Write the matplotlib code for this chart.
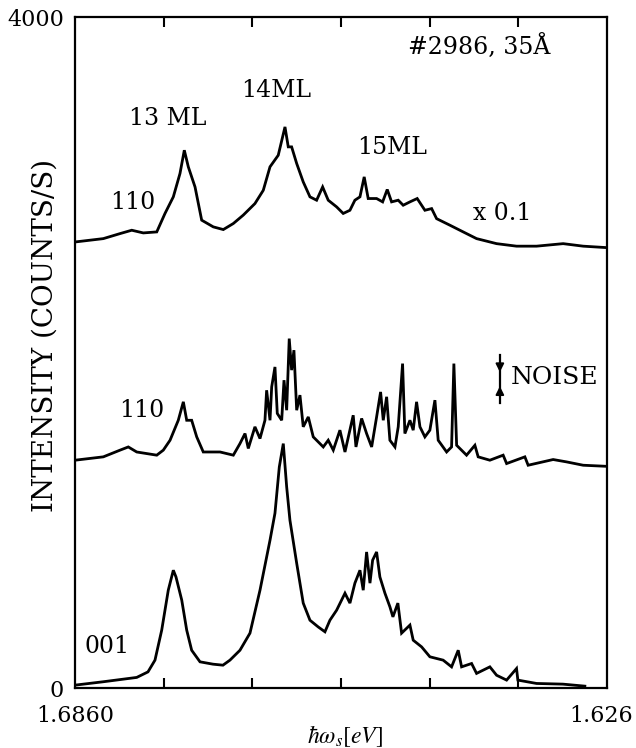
"""
    Raman spectra of the #2986 sample, three traces stacked
"""
import numpy as np
import matplotlib
matplotlib.use("Agg")
import matplotlib.pyplot as plt
import matplotlib.transforms as mtransforms

plt.rcParams["font.family"] = ["DejaVu Serif"]
plt.rcParams["mathtext.fontset"] = "stix"

E0 = 1.6860
E_END = 1.626

### spectra: offset below E0 in meV, intensity in counts/s
off_001 = [0, 3.16, 6.96, 8.23, 9.02, 9.78, 10.52, 11.09, 11.39, 12.04, 12.60, 13.16, 14.10,
           15.57, 16.69, 17.48, 18.61, 19.74, 20.87, 22.00, 22.56, 23.05, 23.50, 23.88, 24.25,
           25.01, 25.75, 26.51, 27.44, 28.20, 28.76, 29.52, 30.46, 31.02, 31.58, 32.15, 32.52,
           32.90, 33.28, 33.58, 34.03, 34.40, 34.97, 35.53, 35.87, 36.43, 36.85, 37.79, 38.16,
           39.11, 40.04, 41.54, 42.49, 43.24, 43.62, 44.75, 45.31, 46.81, 47.57, 48.70, 49.82,
           49.97, 52.08, 55.05, 57.53]
cnt_001 = [18, 38, 64, 97, 167, 346, 584, 703, 663, 525, 346, 226, 157,
           143, 137, 167, 226, 328, 584, 882, 1043, 1319, 1458, 1200, 1001,
           745, 507, 405, 365, 336, 405, 465, 566, 507, 626, 703, 584,
           812, 626, 763, 812, 663, 566, 485, 425, 507, 328, 376, 286,
           246, 187, 167, 127, 226, 127, 147, 88, 127, 77, 48, 117,
           48, 28, 24, 12]

off_110 = [0, 3.19, 5.08, 6.01, 6.96, 9.22, 9.96, 10.72, 11.65, 12.22, 12.60, 13.16, 13.73,
           14.47, 16.36, 17.86, 18.61, 19.18, 19.55, 20.30, 20.87, 21.43, 21.62, 22.00, 22.19,
           22.56, 22.82, 23.32, 23.58, 23.88, 24.17, 24.44, 24.70, 25.01, 25.38, 25.75, 26.32,
           26.88, 28.01, 28.57, 29.14, 29.89, 30.46, 31.39, 31.70, 32.34, 32.90, 33.47, 34.03,
           34.48, 34.78, 35.16, 35.53, 36.10, 36.47, 36.96, 37.22, 37.79, 38.16, 38.54, 38.92,
           39.48, 40.04, 40.61, 40.98, 41.93, 42.49, 42.75, 43.06, 44.18, 45.12, 45.49, 46.81,
           48.31, 48.70, 50.76, 51.13, 53.95, 55.46, 57.34, 59.79]
cnt_110 = [1359, 1379, 1419, 1438, 1408, 1389, 1419, 1478, 1597, 1707, 1597, 1597, 1498,
           1408, 1408, 1389, 1458, 1518, 1429, 1558, 1488, 1597, 1776, 1597, 1796,
           1915, 1638, 1597, 1836, 1657, 2084, 1896, 2015, 1657, 1747, 1558, 1617,
           1498, 1438, 1478, 1419, 1538, 1408, 1627, 1438, 1608, 1518, 1438, 1617,
           1766, 1597, 1737, 1478, 1438, 1558, 1935, 1518, 1597, 1538, 1707, 1558,
           1498, 1538, 1717, 1478, 1408, 1438, 1935, 1448, 1389, 1448, 1379, 1359,
           1389, 1339, 1379, 1329, 1363, 1349, 1329, 1323]

# top trace, already multiplied by 0.1 and shifted up
off_110x = [0, 3.19, 5.08, 6.40, 7.70, 9.22, 10.15, 11.09, 11.84, 12.33, 12.78, 13.54, 14.29,
            15.60, 16.73, 17.86, 18.98, 20.30, 21.24, 22.00, 22.93, 23.69, 24.06, 24.44, 25.01,
            25.75, 26.51, 27.26, 27.94, 28.57, 29.52, 30.26, 31.02, 31.58, 32.15, 32.63, 33.08,
            34.03, 34.71, 35.23, 35.72, 36.47, 37.03, 37.79, 38.61, 39.48, 40.24, 40.80, 42.30,
            43.80, 45.31, 47.57, 49.82, 52.08, 55.08, 57.34, 59.79]
cnt_110x = [2660, 2680, 2710, 2730, 2714, 2720, 2830, 2929, 3068, 3207, 3108, 2988, 2790,
            2750, 2734, 2770, 2820, 2889, 2968, 3108, 3177, 3346, 3227, 3227, 3128,
            3018, 2929, 2909, 2988, 2909, 2869, 2830, 2849, 2909, 2929, 3048, 2919,
            2919, 2899, 2973, 2899, 2909, 2879, 2899, 2919, 2849, 2859, 2799, 2760,
            2720, 2680, 2650, 2635, 2635, 2650, 2635, 2627]

minor_ticks = [1.676, 1.666, 1.656, 1.646, 1.636]

# noise bar
noise_e = 1.63806
noise_top, noise_mid_hi, noise_mid_lo, noise_bot = 1985, 1884, 1800, 1699


def to_energy(off):
    return E0 - np.array(off) / 1000.0


fig = plt.figure(figsize=(6.36, 7.48), dpi=100)
ax = fig.add_axes([0.118, 0.080, 0.836, 0.897])

for off, cnt in [(off_001, cnt_001), (off_110, cnt_110), (off_110x, cnt_110x)]:
    ax.plot(to_energy(off), cnt, color="black", lw=2.0, solid_joinstyle="miter")

ax.set_xlim(E0, E_END)
ax.set_ylim(0, 4000)

ax.set_xticks([E0, E_END])
ax.set_xticklabels(["1.6860", "1.626"])
ax.set_xticks(minor_ticks, minor=True)
ax.set_yticks([0, 4000])
ax.set_yticklabels(["0", "4000"])
ax.xaxis.set_ticks_position("both")
ax.tick_params(axis="both", which="major", length=0, labelsize=16)
ax.tick_params(axis="x", which="major", pad=12)
ax.tick_params(axis="y", which="major", pad=8)
ax.tick_params(axis="x", which="minor", direction="in", length=7, width=1.5,
               top=True, bottom=True)
for s in ax.spines.values():
    s.set_linewidth(1.6)

# keep the right end label inside the figure
shift = mtransforms.ScaledTranslation(-6 / 100, 0, fig.dpi_scale_trans)
lab = ax.get_xticklabels()[1]
lab.set_transform(lab.get_transform() + shift)

ax.set_ylabel("INTENSITY (COUNTS/S)", fontsize=20)
ax.yaxis.set_label_coords(-0.030, 0.526)
ax.set_xlabel(r"$\hbar\omega_s[eV]$", fontsize=17)
ax.xaxis.set_label_coords(0.508, -0.052)

txt = dict(fontsize=17, ha="center", va="center", transform=ax.transAxes)
ax.text(0.175, 0.849, "13 ML", **txt)
ax.text(0.378, 0.891, "14ML", **txt)
ax.text(0.596, 0.806, "15ML", **txt)
ax.text(0.761, 0.955, "#2986, 35Å", **txt)
ax.text(0.804, 0.708, "x 0.1", **txt)
ax.text(0.109, 0.724, "110", **txt)
ax.text(0.126, 0.414, "110", **txt)
ax.text(0.060, 0.062, "001", **txt)
ax.text(0.820, 0.463, "NOISE", fontsize=18, ha="left", va="center", transform=ax.transAxes)

ax.plot([noise_e, noise_e], [noise_top, noise_bot], color="black", lw=1.6)
arrow = dict(arrowstyle="-|>", color="black", lw=1.4, mutation_scale=12,
             shrinkA=0, shrinkB=0)
ax.annotate("", xy=(noise_e, noise_mid_hi), xytext=(noise_e, noise_mid_hi + 60),
            arrowprops=arrow)
ax.annotate("", xy=(noise_e, noise_mid_lo), xytext=(noise_e, noise_mid_lo - 60),
            arrowprops=arrow)

fig.savefig("out.png", dpi=100)
